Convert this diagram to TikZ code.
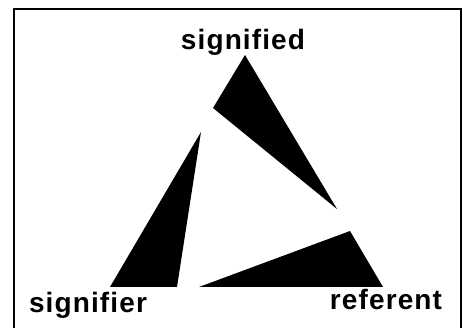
\documentclass[tikz,border=0pt]{standalone}
\usepackage{fontspec}
\setmainfont{Liberation Sans}
\newfontfamily\lblfont[LetterSpace=4]{Liberation Sans}
\begin{document}
\begin{tikzpicture}[x=1pt,y=-1pt,
  wedge/.style={fill=black,draw=none},
  lbl/.style={font=\lblfont\fontsize{28}{28}\selectfont\bfseries,inner sep=0pt,anchor=base}]
\useasboundingbox (0,0) rectangle (463,328);
\begin{scope}
\clip (0,0) rectangle (463,328);
\draw[line width=1.8pt] (14,340) -- (14,9) -- (461,9) -- (461,340);
\end{scope}
\fill[wedge] (245,55) -- (213,108) -- (337,209) -- cycle;
\fill[wedge] (201,132) -- (110,287) -- (177,287) -- cycle;
\fill[wedge] (199,287) -- (350,231) -- (383,287) -- cycle;
\node[lbl] (signified) at (243,50) {signified};
\node[lbl] (signifier) at (88,313) {signifier};
\node[lbl] (referent) at (386,310) {referent};
\end{tikzpicture}
\end{document}
